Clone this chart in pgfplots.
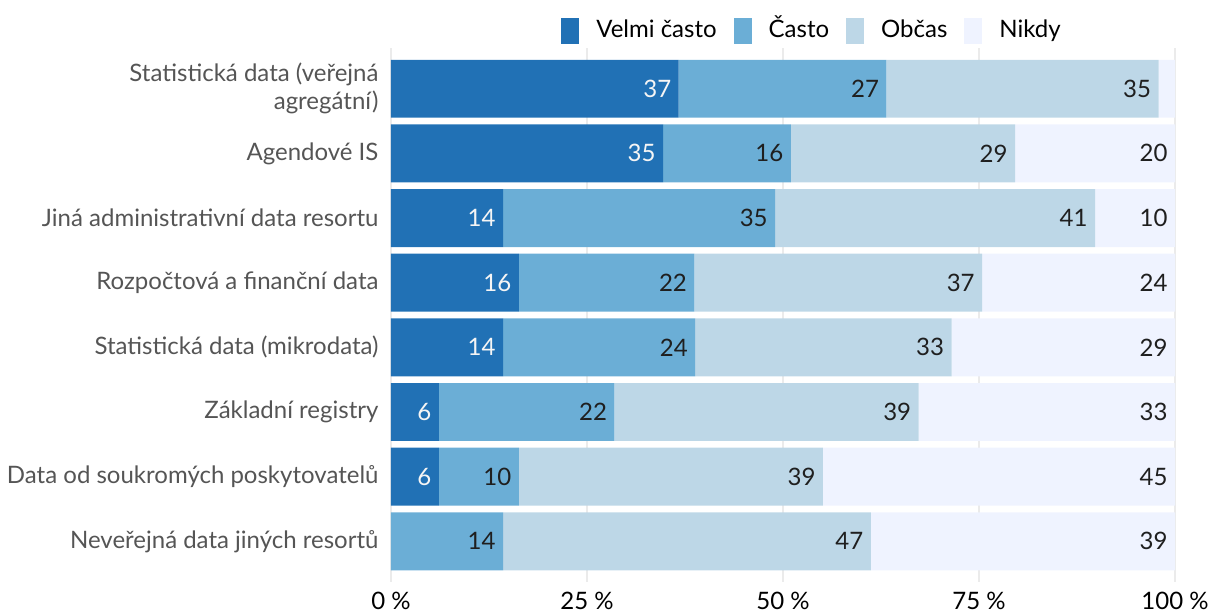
\documentclass[border=0pt]{standalone}
\usepackage{fontspec}
\setmainfont{Lato}
\usepackage{pgfplots}
\usepackage{pgfplotstable}
\pgfplotsset{compat=1.18}

\definecolor{cVelmi}{HTML}{2171B5}
\definecolor{cCasto}{HTML}{6BAED6}
\definecolor{cObcas}{HTML}{BDD7E7}
\definecolor{cNikdy}{HTML}{EFF3FF}
\definecolor{labgray}{HTML}{555555}

% shares of 49 respondents, in percent (v), their running sums (c)
% and the rounded labels (l)
\pgfplotstableread{
y  v1    v2    v3    v4    c1    c2    c3    c4   l1  l2  l3  l4
1  36.7  26.5  34.7  2.1   36.7  63.2  97.9  100  37  27  35  {}
2  34.7  16.3  28.6  20.4  34.7  51.0  79.6  100  35  16  29  20
3  14.3  34.7  40.8  10.2  14.3  49.0  89.8  100  14  35  41  10
4  16.3  22.4  36.7  24.6  16.3  38.7  75.4  100  16  22  37  24
5  14.3  24.5  32.7  28.5  14.3  38.8  71.5  100  14  24  33  29
6  6.1   22.4  38.8  32.7  6.1   28.5  67.3  100  6   22  39  33
7  6.1   10.2  38.8  44.9  6.1   16.3  55.1  100  6   10  39  45
8  0     14.3  46.9  38.8  0     14.3  61.2  100  {}  14  47  39
}\data

\newcommand{\fs}{\fontsize{24bp}{28bp}\selectfont}

\pgfplotsset{
  frame/.style={
    scale only axis,
    width=784bp, height=534bp,
    xmin=0, xmax=100,
    ymin=0.37, ymax=8.63,
    y dir=reverse,
  },
  lab/.style={
    only marks, mark=none, draw=none,
    nodes near coords,
    point meta=explicit symbolic,
    every node near coord/.append style={anchor=east, font=\fs,
        xshift=-4bp, color=#1},
  },
}

\begin{document}
\begin{tikzpicture}
\begin{axis}[
    frame,
    xbar stacked,
    bar width=0.896,
    ytick={1,...,8},
    yticklabels={{Statistická data (veřejná\\agregátní)},
                 Agendové IS,
                 Jiná administrativní data resortu,
                 Rozpočtová a finanční data,
                 Statistická data (mikrodata),
                 Základní registry,
                 Data od soukromých poskytovatelů,
                 Neveřejná data jiných resortů},
    yticklabel style={font=\fs, color=labgray, align=right, xshift=-9bp},
    xtick={0,25,50,75,100},
    xticklabels={0 \%, 25 \%, 50 \%, 75 \%, 100 \%},
    xticklabel style={font=\fs, color=black, yshift=-7bp},
    axis line style={draw=none},
    major tick length=0pt,
    xmajorgrids,
    grid style={draw=black!8, line width=1.5bp},
    legend columns=4,
    legend style={draw=none, fill=none, font=\fs, column sep=15bp,
        nodes={text height=17bp, text depth=5bp},
        at={(rel axis cs:0.537,1.0318)}, anchor=center},
    legend image code/.code={\fill[#1] (0bp,-13bp) rectangle (18bp,13bp);},
]
\addplot[fill=cVelmi, draw=none] table[x=v1, y=y] {\data};
\addplot[fill=cCasto, draw=none] table[x=v2, y=y] {\data};
\addplot[fill=cObcas, draw=none] table[x=v3, y=y] {\data};
\addplot[fill=cNikdy, draw=none] table[x=v4, y=y] {\data};
\legend{Velmi často, Často, Občas, Nikdy}
\coordinate (bl) at (rel axis cs:-0.4987,-0.058);
\coordinate (tr) at (rel axis cs:1.0459,1.0899);
\end{axis}
\begin{axis}[frame, hide axis]
\addplot[lab=white!96!black] table[x=c1, y=y, meta=l1] {\data};
\addplot[lab=black!88] table[x=c2, y=y, meta=l2] {\data};
\addplot[lab=black!88] table[x=c3, y=y, meta=l3] {\data};
\addplot[lab=black!88] table[x=c4, y=y, meta=l4] {\data};
\end{axis}
\pgfresetboundingbox
\path (bl) rectangle (tr);
\end{tikzpicture}
\end{document}
